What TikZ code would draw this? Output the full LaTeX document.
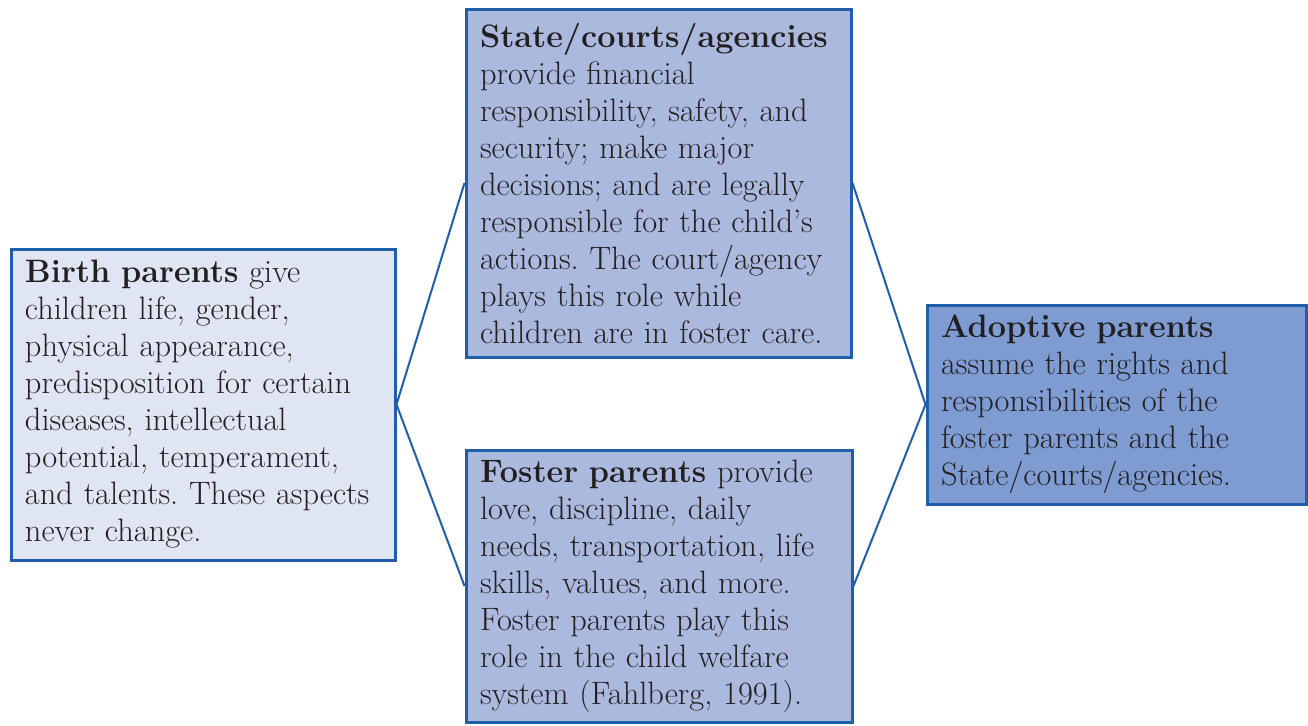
\documentclass[tikz,border=0pt]{standalone}
\usepackage{fontspec}
\usepackage{xcolor}

\definecolor{rolerim}{HTML}{1F5FAA}
\definecolor{birthfill}{HTML}{DFE5F3}
\definecolor{midfill}{HTML}{ABB9DF}
\definecolor{adoptfill}{HTML}{7E9BD2}
\definecolor{inktext}{HTML}{231F20}

\begin{document}
\begin{tikzpicture}[x=0.5pt,y=-0.5pt,
    rolebox/.style={draw=rolerim,line width=1.5pt,rectangle,align=left,
        inner xsep=7pt,inner ysep=0pt,text=inktext,
        font=\fontsize{16.2}{18.5}\selectfont\frenchspacing},
    link/.style={draw=rolerim,line width=1pt}]
            \useasboundingbox (0,0) rectangle (1308,725);
            % the four roles
            \node[rolebox,fill=birthfill,minimum width=192pt,minimum height=155.5pt,text width=178pt]
                (birth) at (203,404.5) {\textbf{Birth parents} give\\
                children life, gender,\\ physical appearance,\\
                predisposition for certain\\ diseases, intellectual\\
                potential, temperament,\\ and talents. These aspects\\ never change.};
            \node[rolebox,fill=midfill,minimum width=192.5pt,minimum height=174pt,text width=178.5pt]
                (state) at (658.5,183) {\textbf{State/courts/agencies}\\
                provide financial\\ responsibility, safety, and\\
                security; make major\\ decisions; and are legally\\
                responsible for the child's\\ actions. The court/agency\\
                plays this role while\\ children are in foster care.};
            \node[rolebox,fill=midfill,minimum width=193pt,minimum height=136pt,text width=179pt]
                (foster) at (659,586) {\textbf{Foster parents} provide\\
                love, discipline, daily\\ needs, transportation, life\\
                skills, values, and more.\\ Foster parents play this\\
                role in the child welfare\\ system (Fahlberg, 1991).};
            \node[rolebox,fill=adoptfill,minimum width=189.5pt,minimum height=99.5pt,text width=175.5pt]
                (adopt) at (1116.5,404.5) {\textbf{Adoptive parents}\\
                assume the rights and\\ responsibilities of the\\
                foster parents and the\\ State/courts/agencies.};
            % connectors
            \draw[link] (state.west) -- (birth.east) -- (foster.west);
            \draw[link] (state.east) -- (adopt.west) -- (foster.east);
        \end{tikzpicture}
\end{document}
